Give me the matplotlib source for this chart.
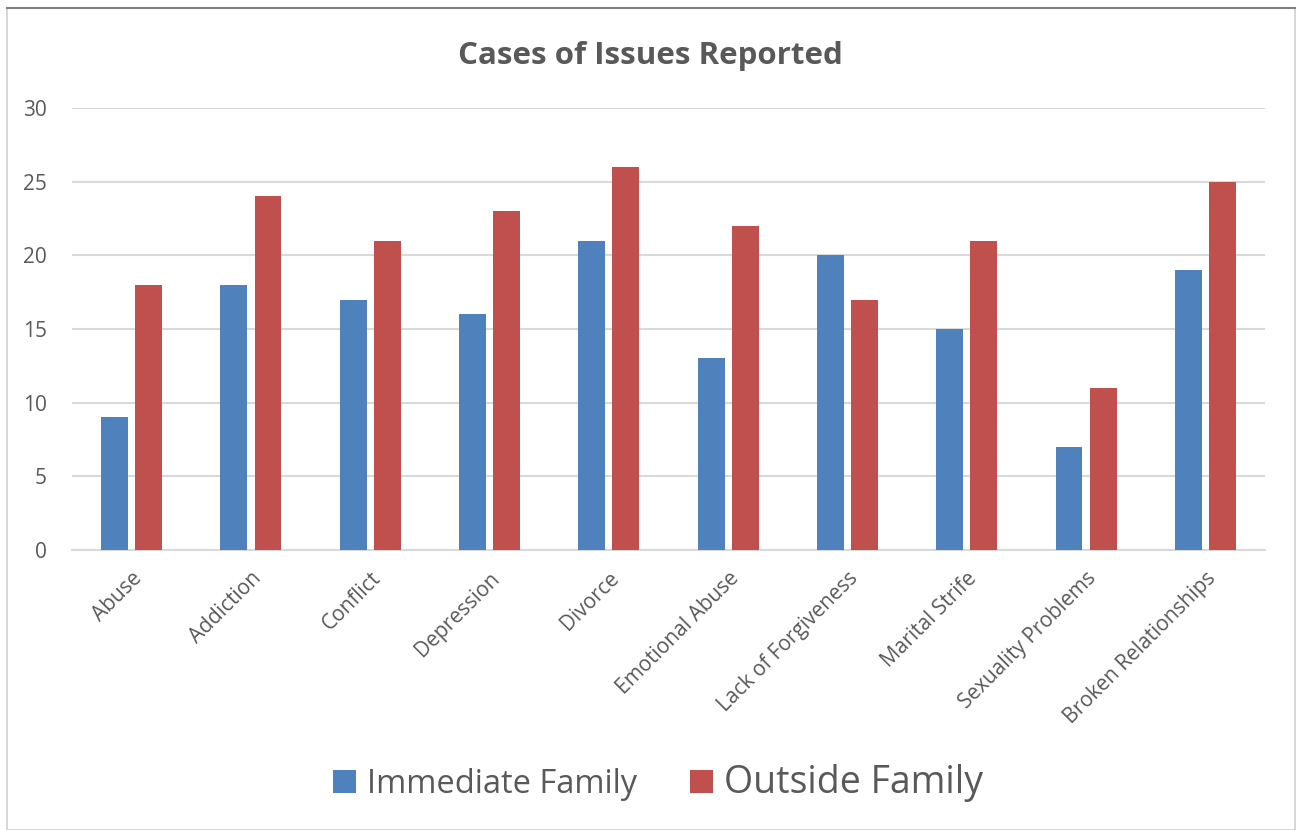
import matplotlib
matplotlib.use("Agg")
import matplotlib.pyplot as plt
from matplotlib.patches import Rectangle
import numpy as np

categories = ["Abuse", "Addiction", "Conflict", "Depression", "Divorce",
              "Emotional Abuse", "Lack of Forgiveness", "Marital Strife",
              "Sexuality Problems", "Broken Relationships"]
immediate = [9, 18, 17, 16, 21, 13, 20, 15, 7, 19]
outside = [18, 24, 21, 23, 26, 22, 17, 21, 11, 25]
series_names = ["Immediate Family", "Outside Family"]
yticks = [0, 5, 10, 15, 20, 25, 30]

plt.rcParams['font.family'] = ['Open Sans', 'DejaVu Sans']
TXT = '#595959'
BLUE = '#4F81BD'
RED = '#C0504D'

fig = plt.figure(figsize=(12.96, 8.30), dpi=100)
ax = fig.add_axes([72/1296, 1-550/830, (1265-72)/1296, (550-108)/830])

x = np.arange(len(categories))
w = 0.226
off = 0.143
b1 = ax.bar(x - off, immediate, w, color=BLUE, zorder=3, label=series_names[0])
b2 = ax.bar(x + off, outside, w, color=RED, zorder=3, label=series_names[1])

ax.set_xlim(-0.5, len(categories) - 0.5)
ax.set_ylim(0, 30)
ax.set_yticks(yticks)
ax.yaxis.grid(True, color='#d9d9d9', linewidth=1.5, zorder=0)
ax.set_axisbelow(True)
for s in ['top', 'right', 'left']:
    ax.spines[s].set_visible(False)
ax.spines['bottom'].set_color('#d9d9d9')
ax.spines['bottom'].set_linewidth(1.5)
ax.tick_params(axis='both', length=0, colors=TXT, labelsize=15)
ax.tick_params(axis='y', pad=18)
ax.set_xticks(x)
ax.set_xticklabels(categories, rotation=45, ha='right', rotation_mode='anchor')
ax.tick_params(axis='x', pad=13)

fig.text(650/1296, 1-56/830, "Cases of Issues Reported", ha='center', va='center',
         fontsize=22.5, fontweight='bold', color=TXT)

leg = fig.legend(handles=[b1, b2], labels=series_names, loc='center',
                 bbox_to_anchor=(658/1296, 1-783/830), ncol=2, frameon=False,
                 fontsize=23.5, handlelength=0.7, handleheight=0.7,
                 handletextpad=0.35, columnspacing=1.6)
for t in leg.get_texts():
    t.set_color(TXT)
leg.get_texts()[1].set_fontsize(27)

# outer chart border
fig.patches.append(Rectangle((7/1296, 0), (1295-7)/1296, 1-8/830,
                             transform=fig.transFigure, fill=False,
                             edgecolor='#d0d0d0', linewidth=1.2))
fig.add_artist(plt.Line2D([7/1296, 1295/1296], [1-8/830, 1-8/830],
                          transform=fig.transFigure, color='#808080', linewidth=1.5))

fig.savefig("out.png", dpi=100)
